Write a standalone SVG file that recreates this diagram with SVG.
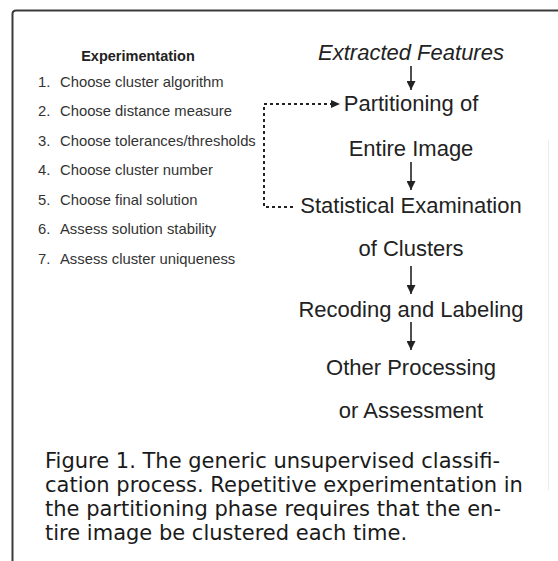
<svg xmlns="http://www.w3.org/2000/svg" width="558" height="561" viewBox="0 0 558 561">
<defs>
<style>
.frame{fill:none;stroke:#3a3a3a;stroke-width:2}
.hd{font-family:"Liberation Sans",Arial,sans-serif;font-size:14.5px;font-weight:bold;fill:#222;text-anchor:middle}
.it{font-family:"Liberation Sans",Arial,sans-serif;font-size:14.8px;fill:#333}
.fl{font-family:"Liberation Sans",Arial,sans-serif;font-size:22px;fill:#222;text-anchor:middle}
.cap{font-family:"DejaVu Sans",sans-serif;font-size:21px;fill:#1a1a1a}
.arr{stroke:#222;stroke-width:1.6;fill:none}
.dot{stroke:#222;stroke-width:2;fill:none;stroke-dasharray:3 3}
</style>
<marker id="ah" viewBox="0 0 10 10" refX="10" refY="5" markerWidth="9" markerHeight="9" markerUnits="userSpaceOnUse" orient="auto">
<path d="M0,0 L10,5 L0,10 Z" fill="#222"/>
</marker>
</defs>
<rect width="558" height="561" fill="#fff"/>
<path class="frame" d="M12.5,561 V14 Q12.5,10.5 16,10.5 H558"/>
<line x1="548.5" y1="140" x2="548.5" y2="490" stroke="#ececec" stroke-width="1"/>

<g id="experimentation">
<text class="hd" x="138" y="61">Experimentation</text>
<text class="it" x="38" y="87">1.</text><text class="it" x="60" y="87">Choose cluster algorithm</text>
<text class="it" x="38" y="116">2.</text><text class="it" x="60" y="116">Choose distance measure</text>
<text class="it" x="38" y="146">3.</text><text class="it" x="60" y="146">Choose tolerances/thresholds</text>
<text class="it" x="38" y="175">4.</text><text class="it" x="60" y="175">Choose cluster number</text>
<text class="it" x="38" y="205">5.</text><text class="it" x="60" y="205">Choose final solution</text>
<text class="it" x="38" y="234">6.</text><text class="it" x="60" y="234">Assess solution stability</text>
<text class="it" x="38" y="264">7.</text><text class="it" x="60" y="264">Assess cluster uniqueness</text>
</g>

<g id="extracted-features">
<text class="fl" x="411" y="60" font-style="italic">Extracted Features</text>
</g>
<g id="partitioning">
<text class="fl" x="411" y="111">Partitioning of</text>
<text class="fl" x="411" y="156">Entire Image</text>
</g>
<g id="statistical-examination">
<text class="fl" x="411" y="213">Statistical Examination</text>
<text class="fl" x="411" y="256">of Clusters</text>
</g>
<g id="recoding">
<text class="fl" x="411" y="317">Recoding and Labeling</text>
</g>
<g id="other-processing">
<text class="fl" x="411" y="375">Other Processing</text>
<text class="fl" x="411" y="418">or Assessment</text>
</g>

<g id="connectors">
<line class="arr" x1="411" y1="66" x2="411" y2="90" marker-end="url(#ah)"/>
<line class="arr" x1="411" y1="162" x2="411" y2="190" marker-end="url(#ah)"/>
<line class="arr" x1="411" y1="266" x2="411" y2="294" marker-end="url(#ah)"/>
<line class="arr" x1="411" y1="322" x2="411" y2="350" marker-end="url(#ah)"/>
<path class="dot" d="M293,207 H264 V104 H333"/>
<path d="M331,100 L340,104 L331,108 Z" fill="#222"/>
</g>

<g id="caption">
<text class="cap" x="45" y="468">Figure 1. The generic unsupervised classifi-</text>
<text class="cap" x="45" y="492">cation process. Repetitive experimentation in</text>
<text class="cap" x="45" y="516">the partitioning phase requires that the en-</text>
<text class="cap" x="45" y="540">tire image be clustered each time.</text>
</g>
</svg>
